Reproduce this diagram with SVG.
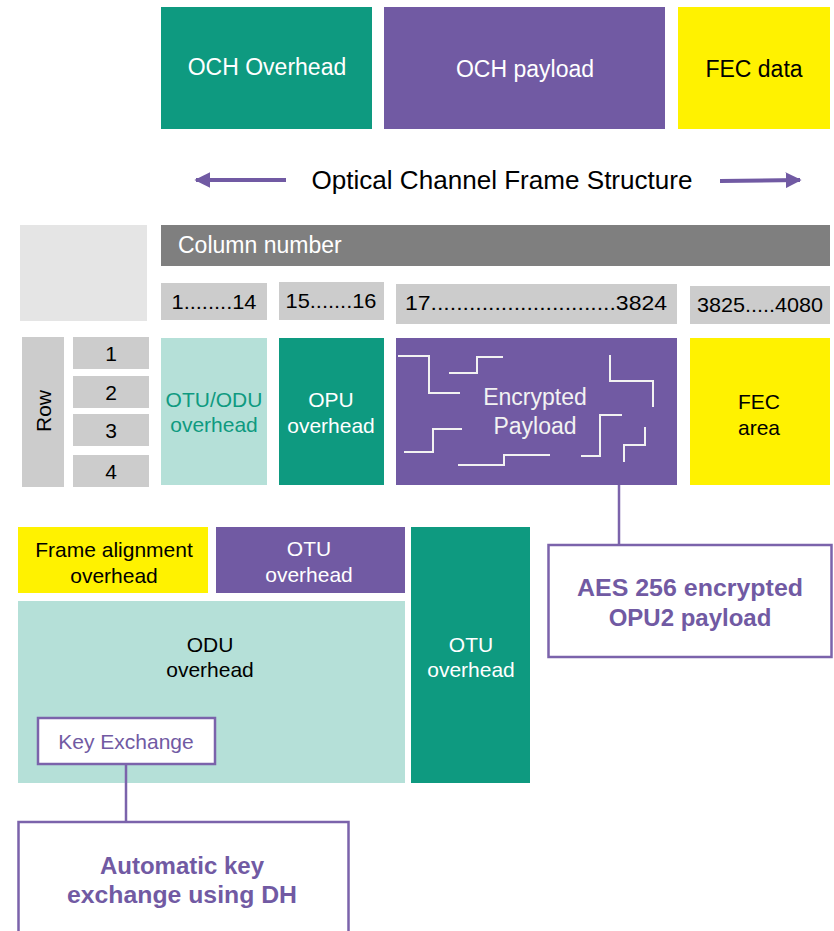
<svg xmlns="http://www.w3.org/2000/svg" width="834" height="931" viewBox="0 0 834 931">
<style>
text{font-family:"Liberation Sans",Arial,sans-serif;text-anchor:middle}
.teal{fill:#0e9a80}.purple{fill:#715aa3}.yellow{fill:#fff200}.mint{fill:#b5e0d8}
.g1{fill:#7f7f7f}.g2{fill:#cccccc}.g3{fill:#e5e5e5}
.w{fill:#ffffff}.k{fill:#000000}.tt{fill:#0e9a80}.pt{fill:#715aa3}
.f22{font-size:23px}.f20{font-size:21px}.f19{font-size:21px}
.b{font-weight:bold;font-size:24px}
.box{fill:#ffffff;stroke:#7b63ab;stroke-width:2.5}
.conn{stroke:#7b63ab;stroke-width:2.5;fill:none}
.wl{stroke:#f2f2f2;stroke-width:2;fill:none}
</style>
<defs>
<marker id="ah" viewBox="0 0 10 10" refX="9" refY="5" markerWidth="4" markerHeight="4.4" orient="auto" markerUnits="strokeWidth">
<path d="M0,0 L10,5 L0,10 z" fill="#715aa3"/>
</marker>
</defs>

<g id="och-overhead"><rect x="161" y="7" width="211" height="122" class="teal"/><text x="267" y="75" class="w f22">OCH Overhead</text></g>
<g id="och-payload"><rect x="384" y="7" width="281" height="122" class="purple"/><text x="525" y="77" class="w f22">OCH payload</text></g>
<g id="fec-data"><rect x="678" y="7" width="152" height="122" class="yellow"/><text x="754" y="77" class="k f22">FEC data</text></g>

<g id="frame-structure-label"><text x="502" y="189" class="k" style="font-size:25px" textLength="381" lengthAdjust="spacingAndGlyphs">Optical Channel Frame Structure</text></g>

<g id="corner"><rect x="20" y="225" width="127" height="96" class="g3"/></g>
<g id="column-number"><rect x="161" y="225" width="669" height="41" class="g1"/><text x="178" y="253" class="w f22" style="text-anchor:start">Column number</text></g>
<g id="col-1-14"><rect x="161" y="283" width="106" height="37" class="g2"/><text x="214" y="309" class="k f19" textLength="85" lengthAdjust="spacingAndGlyphs">1........14</text></g>
<g id="col-15-16"><rect x="279" y="282" width="105" height="38" class="g2"/><text x="331" y="308" class="k f19" textLength="91" lengthAdjust="spacingAndGlyphs">15.......16</text></g>
<g id="col-17-3824"><rect x="396" y="284" width="281" height="40" class="g2"/><text x="536" y="310" class="k f19" textLength="262" lengthAdjust="spacingAndGlyphs">17.............................3824</text></g>
<g id="col-3825-4080"><rect x="690" y="286" width="140" height="38" class="g2"/><text x="760" y="312" class="k f19" textLength="126" lengthAdjust="spacingAndGlyphs">3825.....4080</text></g>

<g id="row-label"><rect x="22" y="337" width="42" height="150" class="g2"/><text transform="translate(51,411) rotate(-90)" class="k f20">Row</text></g>
<g id="row-1"><rect x="73" y="337" width="76" height="32" class="g2"/><text x="111" y="361" class="k f20">1</text></g>
<g id="row-2"><rect x="73" y="376" width="76" height="32" class="g2"/><text x="111" y="400" class="k f20">2</text></g>
<g id="row-3"><rect x="73" y="414" width="76" height="32" class="g2"/><text x="111" y="438" class="k f20">3</text></g>
<g id="row-4"><rect x="73" y="455" width="76" height="32" class="g2"/><text x="111" y="479" class="k f20">4</text></g>

<g id="otu-odu-overhead"><rect x="161" y="338" width="106" height="147" class="mint"/><text x="214" y="407" class="tt f20">OTU/ODU</text><text x="214" y="432" class="tt f20">overhead</text></g>
<g id="opu-overhead"><rect x="279" y="338" width="105" height="147" class="teal"/><text x="331" y="407" class="w f20">OPU</text><text x="331" y="433" class="w f20">overhead</text></g>
<g id="encrypted-payload"><rect x="396" y="338" width="281" height="147" class="purple"/>
<path class="wl" d="M398,356 H429 V393 H460"/>
<path class="wl" d="M449,373 H477 V357 H503"/>
<path class="wl" d="M610,355 V381 H653 V407"/>
<path class="wl" d="M404,452 H433 V429 H462"/>
<path class="wl" d="M458,465 H504 V455 H550"/>
<path class="wl" d="M581,456 H600 V415 H622"/>
<path class="wl" d="M624,462 V445 H645 V427"/>
<text x="535" y="405" style="fill:#f2f2f2" class="f22">Encrypted</text><text x="535" y="434" style="fill:#f2f2f2" class="f22">Payload</text></g>
<g id="fec-area"><rect x="690" y="338" width="140" height="147" class="yellow"/><text x="759" y="409" class="k f20">FEC</text><text x="759" y="435" class="k f20">area</text></g>

<g id="aes-note"><rect x="548.5" y="545" width="283" height="112" class="box"/><text x="690" y="596" class="pt b" textLength="226" lengthAdjust="spacingAndGlyphs">AES 256 encrypted</text><text x="690" y="626" class="pt b">OPU2 payload</text></g>

<g id="frame-alignment-overhead"><rect x="18" y="527" width="190" height="66" class="yellow"/><text x="114" y="557" class="k f20">Frame alignment</text><text x="114" y="583" class="k f20">overhead</text></g>
<g id="otu-overhead-top"><rect x="216" y="527" width="189" height="66" class="purple"/><text x="309" y="556" class="w f20">OTU</text><text x="309" y="582" class="w f20">overhead</text></g>
<g id="otu-overhead-side"><rect x="411" y="527" width="119" height="256" class="teal"/><text x="471" y="652" class="w f20">OTU</text><text x="471" y="677" class="w f20">overhead</text></g>
<g id="odu-overhead"><rect x="18" y="601" width="387" height="182" class="mint"/><text x="210" y="652" class="k f20">ODU</text><text x="210" y="677" class="k f20">overhead</text></g>
<g id="key-exchange"><rect x="38" y="718" width="177" height="46" class="box"/><text x="126" y="749" class="pt f20">Key Exchange</text></g>

<g id="dh-note"><rect x="18.5" y="822" width="330" height="120" class="box"/><text x="182" y="874" class="pt b">Automatic key</text><text x="182" y="903" class="pt b" textLength="230" lengthAdjust="spacingAndGlyphs">exchange using DH</text></g>

<g id="connectors">
<line x1="286" y1="180" x2="196" y2="180" stroke="#715aa3" stroke-width="4" marker-end="url(#ah)"/>
<line x1="720" y1="181" x2="800" y2="180" stroke="#715aa3" stroke-width="4" marker-end="url(#ah)"/>
<line class="conn" x1="619" y1="485" x2="619" y2="545"/>
<line class="conn" x1="126" y1="765" x2="126" y2="822"/>
</g>
</svg>
